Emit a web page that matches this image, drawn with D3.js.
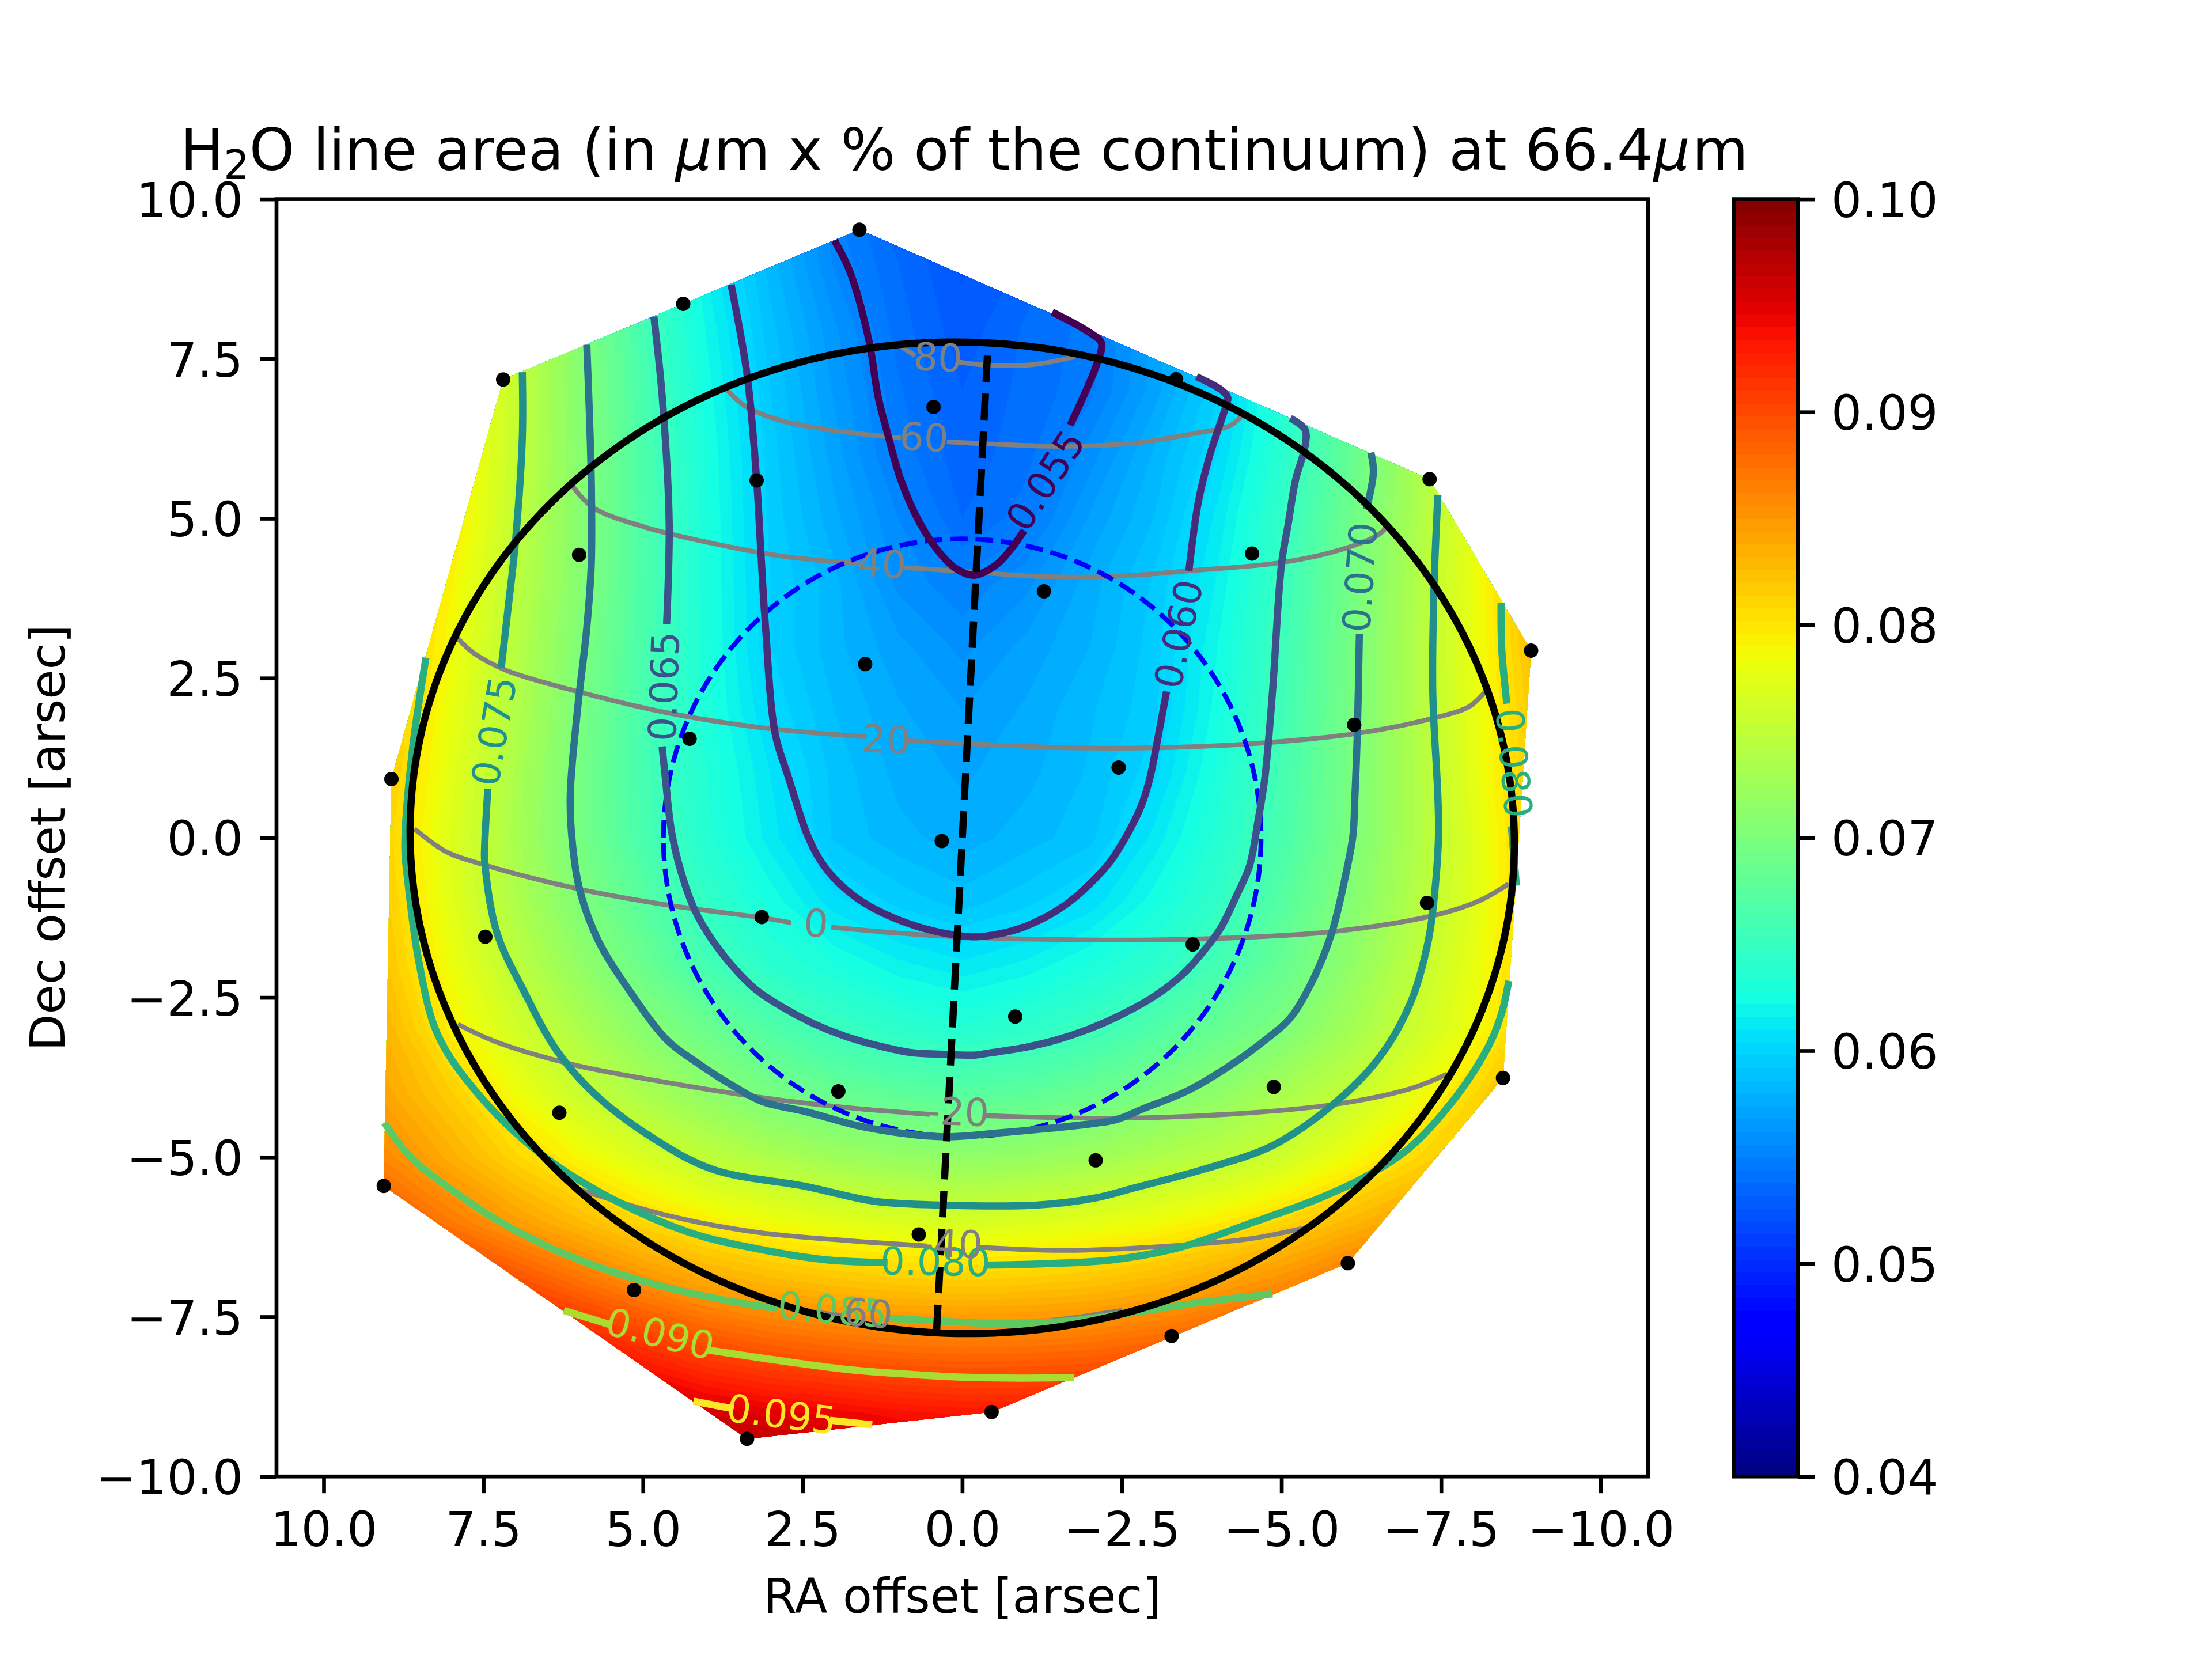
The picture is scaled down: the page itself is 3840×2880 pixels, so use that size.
<!DOCTYPE html>
<html>
<head>
<meta charset="utf-8">
<script src="https://cdn.jsdelivr.net/npm/d3@7"></script>
<style>
    body { margin: 0; background: #fff; }
    text { font-family: "DejaVu Sans", sans-serif; }
</style>
</head>
<body>
<div id="chart"></div>
<script>
'use strict';

var xTicks = [10, 7.5, 5, 2.5, 0, -2.5, -5, -7.5, -10];
var yTicks = [10, 7.5, 5, 2.5, 0, -2.5, -5, -7.5, -10];
var colorTicks = [0.04, 0.05, 0.06, 0.07, 0.08, 0.09, 0.10];

// spaxel positions [RA, Dec]
var spaxels = [
    [1.61, 9.52], [4.37, 8.36], [7.19, 7.175], [6.0, 4.43], [3.22, 5.595], [0.45, 6.745],
    [1.52, 2.72], [4.27, 1.55], [8.94, 0.92], [0.32, -0.05], [-3.35, 7.18], [-7.32, 5.615],
    [-4.54, 4.45], [-1.28, 3.86], [-8.91, 2.93], [-6.14, 1.77], [-2.45, 1.10], [3.14, -1.24],
    [7.47, -1.55], [1.94, -3.97], [6.31, -4.305], [9.06, -5.45], [0.68, -6.21], [5.14, -7.08],
    [3.37, -9.41], [-3.61, -1.67], [-7.28, -1.02], [-0.83, -2.80], [-4.88, -3.90], [-2.09, -5.05],
    [-8.47, -3.76], [-6.04, -6.66], [-3.28, -7.80], [-0.46, -8.99]
];

// line area on a 1 arcsec grid, in units of 0.001
var gridX = d3.range(10, -11, -1);
var gridY = d3.range(10, -11, -1);
var fieldUnit = 0.001;
var fieldRows = [
    [90,85,80.5,75.5,70.5,65.5,61.5,58.3,55,53.2,52, 52.8,54.5,57.5,60,63.5,67.5,72,77,82,87],
    [90,85,80.5,75.5,70.5,65.5,61.5,58.3,55.5,53.8,52.5, 53.3,55,58,60.5,64,68,72.5,77.5,82.5,87.5],
    [90,85,80,75.5,70.7,66,62.1,58.8,56.3,54.1,52.8, 53.9,54.6,57,59.5,63.3,67.3,72.5,77.5,82.5,87.5],
    [90,85,80,75.4,70.8,66.3,62.5,59.2,56.7,54.5,53.2, 54,54.8,57.1,59.7,63.5,67.7,72.5,77.5,82.5,87.5],
    [90,85,80,75.4,70.9,66.5,62.8,59.5,57.1,54.8,53.4, 54.2,55.9,58.1,60.4,63.9,67.9,72.7,77.8,82.5,87.5],
    [90,85,80,75.1,70.8,66.7,62.9,59.6,57.6,55.6,53.8, 54.7,56.9,58.6,61.2,64.6,68.6,72.9,77.8,83,88],
    [88,83.5,79.1,74.7,70.7,66.6,62.9,59.8,58.2,56,55.15, 56,57.7,59.3,61.7,65.1,69,73.3,78,83,88],
    [87,82.5,78.5,74.4,70.3,66.4,63,59.8,58.2,57,56, 57,58,59.5,62.2,65.4,69.2,73.4,77.9,82.8,87.5],
    [86.5,82,78,74,69.9,66.2,63.1,60.3,58.6,57.5,56.8, 57.5,58.5,59.6,62.5,65.6,69.3,73.4,77.7,82.2,87],
    [86,81.7,77.5,73.5,69.6,66.1,63.4,61,59,57.8,57.3, 57.8,58.7,60.2,63,66,69.4,73.3,77.6,82,86.5],
    [85.5,81.1,77.1,73.3,69.6,66.3,63.6,61.3,59.1,58.2,57.7, 58.3,59,61.2,63.6,66.3,69.6,73.3,77.2,81.8,86],
    [86,81.5,77.4,73.7,70.3,67.4,64.6,62.6,60.6,59.6,58.9, 59.6,60.6,62.5,64.5,67.2,70.3,73.7,77.3,81.5,86],
    [87,82,78.2,74.7,71.7,68.7,65.9,64,62.9,61.8,61.2, 61.8,62.9,64.1,65.9,68.4,71.2,74.5,77.8,81.8,87],
    [88,83,79.3,76.3,73.6,70.9,68.8,66.9,65.2,64.2,63.6, 64.3,65.2,66.8,68.4,70,72.7,75.5,78.3,82,86],
    [87,84,81.5,78.4,75.6,73.4,71.4,69.6,68.5,67.7,67.3, 67.7,68.6,69.8,71.4,73.2,75,77.8,80.7,84.5,88],
    [89,85.8,83.5,81,78.9,76.8,74.9,73.6,72.5,71.9,71.5, 71.9,72.6,73.6,74.6,76,78.3,80.5,82.7,85,88],
    [92,89.5,86.8,84.6,82.7,80.8,79.4,78.3,77.5,76.9,76.4, 76.9,77.5,78.3,79.4,80.9,82.7,84.4,86.5,89,91],
    [97,95,92.5,90,87.8,85.8,84.2,83.2,82.5,82,81.8, 82,82.4,83.2,84.4,85.8,87.5,89.5,91.5,94,96],
    [100,100,98,96,93.8,91.7,90,88.9,88.2,87.7,87.5, 87.6,87.9,88.6,89.7,91,92.5,94,96,98,100],
    [100,100,100,100,99,97.5,95.7,94.9,94.3,93.6,93.2, 93.2,93.5,94,95,96,97,98,99,100,100],
    [100,100,100,100,100,100,99,98.5,98,97.5,97, 97,97.5,98,98.5,99,100,100,100,100,100]
];

// coloured contours, one list of pieces per level (pieces break at the labels)
var contour055 = [
    [[2.00,9.35],[1.75,8.84],[1.46,7.78],[1.32,6.92],[1.17,6.33],[0.96,5.60],[0.67,4.94],[0.31,4.41],[0.09,4.21],[-0.18,4.11],[-0.54,4.28],[-0.755,4.51],[-0.97,4.81]],
    [[-1.69,6.46],[-2.12,7.45],[-2.18,7.75],[-1.98,7.92],[-1.41,8.23]]
];
var contour060 = [
    [[3.62,8.66],[3.37,7.25],[3.22,5.60],[3.15,4.41],[3.08,3.29],[2.93,1.63],[2.72,0.94],[2.58,0.49],[2.44,0.08],[2.235,-0.335],[1.99,-0.65],[1.68,-0.92],[1.34,-1.13],[0.82,-1.35],[0.30,-1.49],[-0.22,-1.55],[-0.77,-1.46],[-1.21,-1.29],[-1.63,-1.04],[-1.97,-0.75],[-2.32,-0.37],[-2.60,0.08],[-2.80,0.49],[-2.94,0.94],[-3.09,1.70],[-3.20,2.29]],
    [[-3.55,4.18],[-3.70,5.27],[-3.88,6.0],[-4.14,6.79],[-4.16,6.89],[-4.06,7.01],[-3.67,7.22]]
];
var contour065 = [
    [[4.83,8.16],[4.70,6.92],[4.59,4.94],[4.63,3.35]],
    [[4.70,1.43],[4.65,0.94],[4.55,0.08],[4.39,-0.58],[4.19,-1.13],[3.93,-1.58],[3.58,-2.03],[3.24,-2.37],[2.82,-2.65],[2.37,-2.89],[1.855,-3.10],[1.34,-3.25],[0.82,-3.36],[0.30,-3.39],[-0.22,-3.40],[-0.42,-3.37],[-0.94,-3.29],[-1.46,-3.17],[-1.97,-3.0],[-2.49,-2.77],[-3.01,-2.48],[-3.46,-2.13],[-3.80,-1.75],[-4.05,-1.41],[-4.29,-0.92],[-4.50,-0.44],[-4.63,0.25],[-4.74,0.94],[-4.86,2.29],[-5.0,4.28],[-5.11,4.94],[-5.22,5.60],[-5.37,6.13],[-5.37,6.39],[-5.14,6.57]]
];
var contour070 = [
    [[5.88,7.72],[5.81,5.60],[5.81,4.28],[5.88,3.29],[6.03,1.96],[6.14,0.64],[6.10,-0.14],[5.99,-0.82],[5.70,-1.61],[5.20,-2.41],[4.62,-3.17],[4.17,-3.51],[3.58,-3.89],[3.13,-4.13],[2.44,-4.29],[1.53,-4.53],[0.33,-4.68],[-0.57,-4.62],[-2.08,-4.47],[-2.42,-4.41],[-2.84,-4.24],[-3.53,-3.96],[-4.22,-3.55],[-4.74,-3.17],[-5.14,-2.82],[-5.50,-2.21],[-5.79,-1.48],[-6.01,-0.56],[-6.12,0.04],[-6.15,0.64],[-6.19,1.70],[-6.22,3.19]],
    [[-6.33,5.14],[-6.44,5.73],[-6.40,6.03]]
];
var contour075 = [
    [[6.89,7.29],[6.89,6.26],[7.0,4.61],[7.11,3.62],[7.22,2.66]],
    [[7.43,0.77],[7.48,-0.14],[7.48,-0.36],[7.29,-1.48],[6.86,-2.41],[6.35,-3.33],[5.78,-3.99],[4.91,-4.66],[3.91,-5.19],[2.44,-5.46],[1.38,-5.69],[0.33,-5.75],[-1.17,-5.75],[-2.08,-5.64],[-2.70,-5.48],[-3.78,-5.19],[-4.86,-4.82],[-5.79,-4.19],[-6.51,-3.47],[-7.01,-2.61],[-7.30,-1.61],[-7.41,-0.75],[-7.46,0.04],[-7.45,0.64],[-7.37,2.29],[-7.39,3.95],[-7.45,5.37]]
];
var contour080 = [
    [[8.40,2.82],[8.62,1.30],[8.73,-0.14],[8.69,-0.62],[8.51,-1.94],[8.22,-3.07],[7.65,-3.93],[6.64,-4.92],[5.49,-5.65],[4.27,-6.18],[3.19,-6.44],[2.11,-6.61],[1.17,-6.65]],
    [[-0.36,-6.69],[-1.26,-6.67],[-2.34,-6.61],[-3.42,-6.41],[-4.50,-6.04],[-5.58,-5.65],[-6.29,-5.32],[-7.01,-4.85],[-7.73,-4.06],[-8.24,-3.27],[-8.45,-2.74],[-8.56,-2.24]],
    [[-8.44,3.68],[-8.45,2.96],[-8.53,2.10]],
    [[-8.60,0.18],[-8.68,-0.75]]
];
var contour085 = [
    [[9.05,-4.46],[8.65,-4.99],[8.08,-5.45],[7.07,-6.11],[5.92,-6.64],[4.63,-7.04],[3.55,-7.27],[2.90,-7.37]],
    [[1.17,-7.52],[0.09,-7.58],[-0.54,-7.60],[-1.62,-7.57],[-2.70,-7.43],[-3.78,-7.27],[-4.86,-7.14]]
];
var contour090 = [
    [[6.24,-7.40],[5.49,-7.63]],
    [[3.98,-8.02],[2.83,-8.19],[1.75,-8.33],[0.67,-8.41],[-0.18,-8.45],[-0.90,-8.46],[-1.75,-8.45]]
];
var contour095 = [
    [[4.21,-8.82],[3.58,-8.94]],
    [[2.07,-9.12],[1.41,-9.19]]
];
var areaLevels = [0.055, 0.060, 0.065, 0.070, 0.075, 0.080, 0.085, 0.090, 0.095];
var areaContours = [contour055, contour060, contour065, contour070, contour075, contour080, contour085, contour090, contour095];

// [level, RA, Dec, angle]
var areaLabels = [
    [0.055, -1.295, 5.60, -57],
    [0.060, -3.38, 3.19, -78],
    [0.065, 4.68, 2.37, -88],
    [0.070, -6.22, 4.08, -86],
    [0.075, 7.34, 1.67, -80],
    [0.080, -8.65, 1.17, 85],
    [0.080, 0.42, -6.63, 1],
    [0.085, 2.03, -7.38, 5],
    [0.090, 4.73, -7.76, 14],
    [0.095, 2.83, -9.02, 7]
];

// latitude lines on the disc
var lat80 = [[[1.0,7.72],[0.74,7.55]], [[0.06,7.45],[-0.40,7.40],[-1.11,7.41],[-1.76,7.53]]];
var lat60 = [[[3.69,7.02],[3.40,6.76],[2.83,6.53],[1.89,6.36],[0.96,6.26]], [[0.24,6.2],[-0.54,6.16],[-1.62,6.13],[-2.70,6.18],[-3.63,6.33],[-4.21,6.46],[-4.39,6.63]]];
var lat40 = [[[6.10,5.50],[5.78,5.17],[4.99,4.87],[3.91,4.61],[2.83,4.41],[1.60,4.29]], [[0.92,4.23],[-0.18,4.16],[-1.26,4.09],[-2.34,4.09],[-3.56,4.18],[-5.0,4.31],[-5.93,4.51],[-6.51,4.74],[-6.65,4.87]]];
var lat20 = [[[7.90,3.12],[7.65,2.89],[7.14,2.62],[6.06,2.30],[4.63,1.96],[3.19,1.73],[1.50,1.58]], [[0.88,1.52],[-0.18,1.47],[-1.62,1.41],[-3.06,1.41],[-4.50,1.47],[-6.15,1.63],[-7.37,1.87],[-7.95,2.06],[-8.20,2.30]]];
var lat0 = [[[8.58,0.14],[8.08,-0.22],[7.50,-0.42],[6.06,-0.79],[4.63,-1.05],[3.15,-1.25],[2.68,-1.33]], [[2.05,-1.40],[1.03,-1.49],[0.09,-1.55],[-1.26,-1.59],[-2.70,-1.60],[-4.14,-1.57],[-5.79,-1.47],[-7.37,-1.22],[-8.09,-0.99],[-8.56,-0.72]]];
var latM20 = [[[7.90,-2.92],[7.29,-3.20],[6.06,-3.56],[4.63,-3.83],[3.19,-4.06],[1.75,-4.23],[0.51,-4.33]], [[-0.36,-4.35],[-2.34,-4.39],[-4.14,-4.33],[-5.79,-4.18],[-7.01,-3.93],[-7.59,-3.70]]];
var latM40 = [[[5.96,-5.52],[4.63,-5.91],[3.19,-6.18],[1.75,-6.31],[0.56,-6.39]], [[-0.25,-6.41],[-1.62,-6.46],[-3.42,-6.38],[-4.50,-6.28],[-5.40,-6.10]]];
var latM60 = [[[3.2,-7.2],[2.44,-7.40],[1.96,-7.47]], [[1.08,-7.53],[0,-7.6],[-1,-7.6],[-2.5,-7.4]]];
var latLines = [lat80, lat60, lat40, lat20, lat0, latM20, latM40, latM60];

// [text, RA, Dec, angle]
var latLabels = [
    ['80', 0.38, 7.53, 3],
    ['60', 0.60, 6.28, 3],
    ['40', 1.26, 4.30, 4],
    ['20', 1.19, 1.55, 3],
    ['0', 2.29, -1.33, 4],
    ['-20', 0.07, -4.28, 2],
    ['-40', 0.17, -6.35, 2],
    ['-60', 1.58, -7.43, 4]
];

var polarAxis = [[-0.395, 7.55], [0.40, -7.70]];
var discMajor = 8.65;
var discMinor = 7.76;
var discTilt = 0.052;
var beamRadius = 4.68;

// matplotlib jet segments, [position, value]
var jetRed = [[0, 0], [0.35, 0], [0.66, 1], [0.89, 1], [1, 0.5]];
var jetGreen = [[0, 0], [0.125, 0], [0.375, 1], [0.64, 1], [0.91, 0], [1, 0]];
var jetBlue = [[0, 0.5], [0.11, 1], [0.34, 1], [0.65, 0], [1, 0]];

function channel(segments) {
    return d3.scaleLinear()
        .domain(segments.map(function(d) { return d[0]; }))
        .range(segments.map(function(d) { return d[1] * 255; }))
        .clamp(true);
}

var red = channel(jetRed);
var green = channel(jetGreen);
var blue = channel(jetBlue);
var colorPos = d3.scaleLinear().domain([0.04, 0.10]).range([0, 1]);

function jet(v) {
    var t = colorPos(v);
    return d3.rgb(red(t), green(t), blue(t)).formatHex();
}

var width = 3840;
var height = 2880;
var margin = {top: 345.6, right: 979.2, bottom: 316.8, left: 480};
var plotW = width - margin.left - margin.right;
var plotH = height - margin.top - margin.bottom;

var xScale = d3.scaleLinear().domain([10.74, -10.74]).range([0, plotW]);
var yScale = d3.scaleLinear().domain([10, -10]).range([0, plotH]);
var viridis = d3.scaleSequential(d3.interpolateViridis).domain([0.055, 0.095]);

var svg = d3.select('#chart').append('svg')
    .attr('width', width)
    .attr('height', height)
    .style('display', 'block');

var plot = svg.append('g')
    .attr('transform', 'translate(' + margin.left + ',' + margin.top + ')');

var hull = d3.polygonHull(spaxels);
svg.append('clipPath')
    .attr('id', 'hull')
    .append('path')
    .attr('d', 'M' + hull.map(function(d) { return xScale(d[0]) + ',' + yScale(d[1]); }).join('L') + 'Z');

// filled field
var levels = d3.range(0, 101).map(function(i) { return 0.04 + i * 0.0006; });
var values = d3.merge(fieldRows).map(function(d) { return d * fieldUnit; });
var cols = gridX.length;
var rows = gridY.length;
var colToX = d3.scaleLinear().domain([0.5, cols - 0.5]).range([gridX[0], gridX[cols - 1]]);
var rowToY = d3.scaleLinear().domain([0.5, rows - 0.5]).range([gridY[0], gridY[rows - 1]]);

var contours = d3.contours()
    .size([cols, rows])
    .thresholds(levels.slice(0, -1))(values);

var gridPath = d3.geoPath(d3.geoTransform({
    point: function(gx, gy) {
        this.stream.point(xScale(colToX(gx)), yScale(rowToY(gy)));
    }
}));

plot.append('g')
    .attr('clip-path', 'url(#hull)')
    .selectAll('path')
    .data(contours)
    .enter()
    .append('path')
    .attr('d', gridPath)
    .attr('fill', function(d) { return jet(d.value + 0.0003); });

var line = d3.line()
    .x(function(d) { return xScale(d[0]); })
    .y(function(d) { return yScale(d[1]); })
    .curve(d3.curveCatmullRom.alpha(0.5));

// latitude lines
latLines.forEach(function(pieces) {
    pieces.forEach(function(piece) {
        plot.append('path')
            .attr('d', line(piece))
            .attr('fill', 'none')
            .attr('stroke', '#808080')
            .attr('stroke-width', 8.33);
    });
});

// beam circle
var beam = d3.range(0, 361, 2).map(function(a) {
    var t = a * Math.PI / 180;
    return [beamRadius * Math.cos(t), beamRadius * Math.sin(t)];
});
plot.append('path')
    .attr('d', line(beam))
    .attr('fill', 'none')
    .attr('stroke', '#0000ff')
    .attr('stroke-width', 8.33)
    .attr('stroke-dasharray', '30.8,13.3');

// area contours
areaContours.forEach(function(pieces, i) {
    pieces.forEach(function(piece) {
        plot.append('path')
            .attr('d', line(piece))
            .attr('fill', 'none')
            .attr('stroke', viridis(areaLevels[i]))
            .attr('stroke-width', 12.5);
    });
});

// disc outline, RA runs to the left so east is -x
var disc = d3.range(0, 361, 2).map(function(a) {
    var t = a * Math.PI / 180;
    var u = discMajor * Math.cos(t);
    var v = discMinor * Math.sin(t);
    return [-(u * Math.cos(discTilt) + v * Math.sin(discTilt)), -u * Math.sin(discTilt) + v * Math.cos(discTilt)];
});
plot.append('path')
    .attr('d', line(disc))
    .attr('fill', 'none')
    .attr('stroke', '#000')
    .attr('stroke-width', 12.5);

plot.append('path')
    .attr('d', d3.line().x(function(d) { return xScale(d[0]); }).y(function(d) { return yScale(d[1]); })(polarAxis))
    .attr('fill', 'none')
    .attr('stroke', '#000')
    .attr('stroke-width', 12.5)
    .attr('stroke-dasharray', '46,20');

plot.append('g')
    .selectAll('circle')
    .data(spaxels)
    .enter()
    .append('circle')
    .attr('cx', function(d) { return xScale(d[0]); })
    .attr('cy', function(d) { return yScale(d[1]); })
    .attr('r', 12.5)
    .attr('fill', '#000');

function placeLabel(d) {
    return 'translate(' + xScale(d[1]) + ',' + yScale(d[2]) + ') rotate(' + d[3] + ')';
}

plot.append('g')
    .selectAll('text')
    .data(areaLabels)
    .enter()
    .append('text')
    .attr('transform', placeLabel)
    .attr('text-anchor', 'middle')
    .attr('dy', '0.365em')
    .attr('font-size', 66.7)
    .attr('fill', function(d) { return viridis(d[0]); })
    .text(function(d) { return d[0].toFixed(3); });

plot.append('g')
    .selectAll('text')
    .data(latLabels)
    .enter()
    .append('text')
    .attr('transform', placeLabel)
    .attr('text-anchor', 'middle')
    .attr('dy', '0.365em')
    .attr('font-size', 66.7)
    .attr('fill', '#808080')
    .text(function(d) { return d[0]; });

// frame and axes
function styleAxis(g) {
    g.select('.domain').remove();
    g.selectAll('line').attr('stroke', '#000').attr('stroke-width', 6.67);
    g.selectAll('text').attr('font-size', 83.3).attr('fill', '#000').attr('font-family', '"DejaVu Sans"');
}

var xAxis = d3.axisBottom(xScale).tickValues(xTicks).tickSize(29).tickPadding(29).tickFormat(d3.format('.1f'));
var yAxis = d3.axisLeft(yScale).tickValues(yTicks).tickSize(29).tickPadding(29).tickFormat(d3.format('.1f'));

plot.append('g')
    .attr('transform', 'translate(0,' + plotH + ')')
    .call(xAxis)
    .call(styleAxis)
    .selectAll('text')
    .attr('dy', '0.76em');

plot.append('g')
    .call(yAxis)
    .call(styleAxis)
    .selectAll('text')
    .attr('dy', '0.365em');

plot.append('rect')
    .attr('width', plotW)
    .attr('height', plotH)
    .attr('fill', 'none')
    .attr('stroke', '#000')
    .attr('stroke-width', 6.67);

svg.append('text')
    .attr('x', margin.left + plotW / 2)
    .attr('y', 2800)
    .attr('text-anchor', 'middle')
    .attr('font-size', 83.3)
    .text('RA offset [arsec]');

svg.append('text')
    .attr('transform', 'translate(112,' + (margin.top + plotH / 2) + ') rotate(-90)')
    .attr('text-anchor', 'middle')
    .attr('font-size', 83.3)
    .text('Dec offset [arsec]');

// title with subscript and italic mu, mathtext leaves a little room after the mu
var title = svg.append('text')
    .attr('x', margin.left + plotW / 2 + 3.5)
    .attr('y', 295)
    .attr('text-anchor', 'middle')
    .attr('font-size', 100);
title.append('tspan').text('H');
title.append('tspan').attr('font-size', 70).attr('dy', 15).text('2');
title.append('tspan').attr('dy', -15).text('O line area (in ');
title.append('tspan').attr('font-style', 'italic').text('\u03bc');
title.append('tspan').attr('dx', 3.5).text('m x % of the continuum) at 66.4');
title.append('tspan').attr('font-style', 'italic').text('\u03bc');
title.append('tspan').attr('dx', 3.5).text('m');

// colorbar
var barX = 3010;
var barW = 111;
var barScale = d3.scaleLinear().domain([0.04, 0.10]).range([margin.top + plotH, margin.top]);
var bar = svg.append('g');

bar.selectAll('rect')
    .data(levels.slice(0, -1))
    .enter()
    .append('rect')
    .attr('x', barX)
    .attr('width', barW)
    .attr('y', function(d) { return barScale(d + 0.0006) - 0.5; })
    .attr('height', function(d) { return barScale(d) - barScale(d + 0.0006) + 1; })
    .attr('fill', function(d) { return jet(d + 0.0003); });

bar.append('rect')
    .attr('x', barX)
    .attr('y', margin.top)
    .attr('width', barW)
    .attr('height', plotH)
    .attr('fill', 'none')
    .attr('stroke', '#000')
    .attr('stroke-width', 6.67);

svg.append('g')
    .attr('transform', 'translate(' + (barX + barW) + ',0)')
    .call(d3.axisRight(barScale).tickValues(colorTicks).tickSize(29).tickPadding(29).tickFormat(d3.format('.2f')))
    .call(styleAxis)
    .selectAll('text')
    .attr('dy', '0.365em');
</script>
</body>
</html>
